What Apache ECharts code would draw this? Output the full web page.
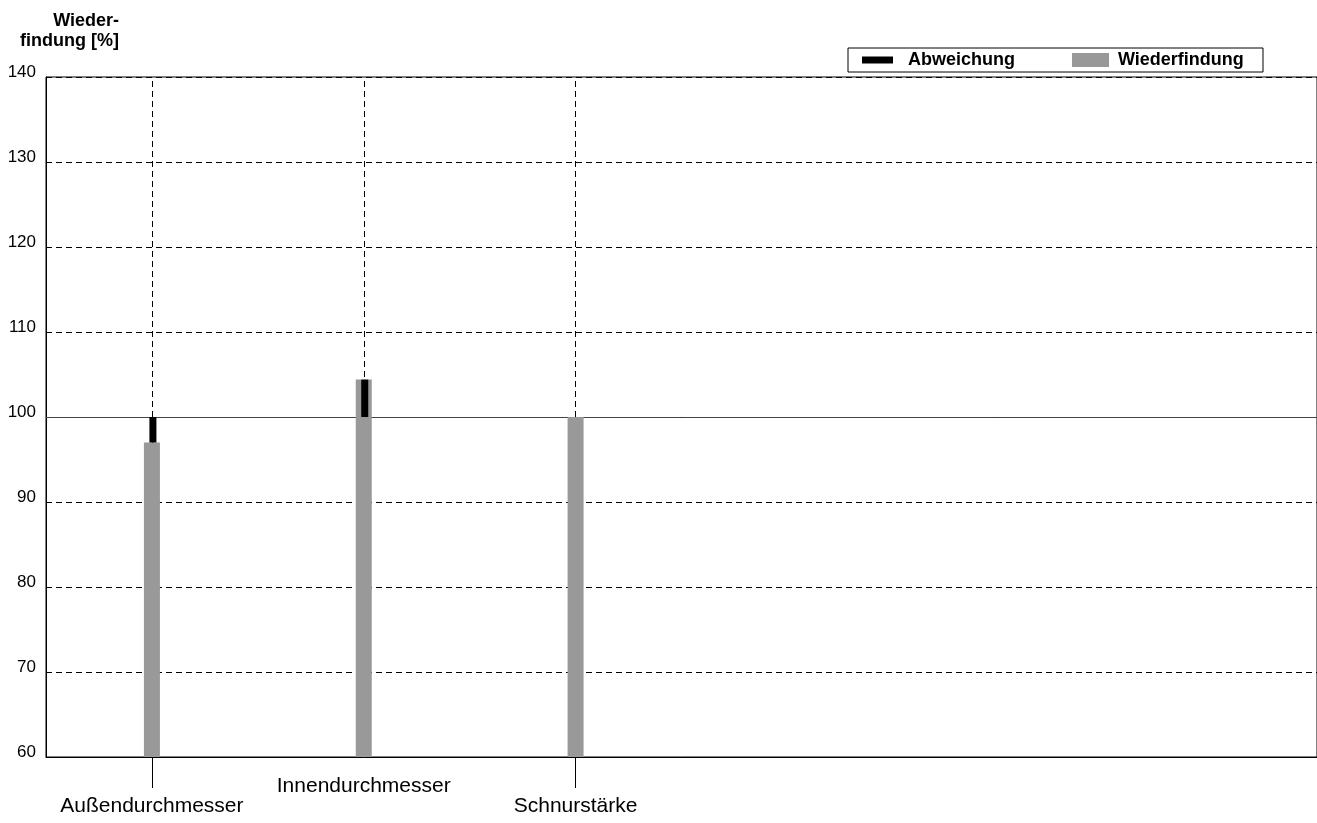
<!DOCTYPE html>
<html>
<head>
<meta charset="utf-8">
<script src="https://cdn.jsdelivr.net/npm/echarts@6/dist/echarts.min.js"></script>
<style>
html,body{margin:0;padding:0;background:#fff;}
#chart{width:1317px;height:823px;}
</style>
</head>
<body>
<div id="chart"></div>
<script>
const categories = ['Außendurchmesser', 'Innendurchmesser', 'Schnurstärke', '', '', ''];
const recovery = [97, 104.4, 100];
const referenceValue = 100;
const yTicks = [60, 70, 80, 90, 100, 110, 120, 130, 140];

const FONT = 'Liberation Sans, Arial, Helvetica, sans-serif';

const deviationData = [];
recovery.forEach(function (v, i) {
  if (v !== referenceValue) {
    deviationData.push([i, Math.min(v, referenceValue), Math.max(v, referenceValue)]);
  }
});

const chart = echarts.init(document.getElementById('chart'), null, { renderer: 'canvas' });
chart.setOption({
  animation: false,
  backgroundColor: '#fff',
  textStyle: { fontFamily: FONT },
  title: {
    text: 'Wieder-\nfindung [%]',
    left: 119,
    top: 11,
    textAlign: 'right',
    padding: 0,
    textStyle: { fontFamily: FONT, fontSize: 18, fontWeight: 'bold', color: '#000', lineHeight: 20 }
  },
  legend: [
    {
      data: ['Abweichung'],
      left: 848,
      top: 48,
      icon: 'rect',
      itemWidth: 31,
      itemHeight: 7,
      padding: [3, 248, 3, 14],
      borderColor: '#000',
      borderWidth: 1,
      selectedMode: false,
      textStyle: { fontFamily: FONT, fontSize: 18, fontWeight: 'bold', color: '#000', padding: [0, 0, 0, 10] }
    },
    {
      data: ['Wiederfindung'],
      left: 1072,
      top: 51,
      icon: 'rect',
      itemWidth: 37,
      itemHeight: 14,
      padding: 0,
      selectedMode: false,
      textStyle: { fontFamily: FONT, fontSize: 18, fontWeight: 'bold', color: '#000', padding: [0, 0, 0, 4] }
    }
  ],
  grid: {
    left: 46, right: 0, top: 77, bottom: 66,
    show: true, borderColor: '#000', borderWidth: 1, backgroundColor: 'transparent'
  },
  xAxis: {
    type: 'category',
    data: categories,
    boundaryGap: true,
    axisLine: { show: true, lineStyle: { color: '#000', width: 1 } },
    axisTick: {
      show: true,
      alignWithLabel: true,
      length: 31,
      interval: function (index) { return index === 0 || index === 2; },
      lineStyle: { color: '#000' }
    },
    axisLabel: {
      interval: 0,
      margin: 19,
      fontFamily: FONT,
      fontSize: 21,
      lineHeight: 20,
      color: '#000',
      formatter: function (value, index) {
        if (!value) return '';
        return index % 2 === 0 ? '\n' + value : value;
      }
    },
    splitLine: { show: false }
  },
  yAxis: {
    type: 'value',
    min: yTicks[0],
    max: yTicks[yTicks.length - 1],
    interval: yTicks[1] - yTicks[0],
    axisLine: { show: true, lineStyle: { color: '#000' } },
    axisTick: { show: false },
    axisLabel: {
      fontFamily: FONT, fontSize: 17, color: '#000', margin: 10,
      verticalAlign: 'bottom', lineHeight: 10
    },
    splitLine: { show: true, lineStyle: { color: '#000', type: [6, 4], width: 1 } }
  },
  series: [
    {
      name: 'Wiederfindung',
      type: 'bar',
      data: recovery,
      barWidth: 16,
      z: 2,
      itemStyle: { color: '#999999' },
      markLine: {
        z: 1,
        silent: true,
        symbol: 'none',
        label: { show: false },
        animation: false,
        data: [
          { xAxis: 0, lineStyle: { color: '#000', type: [6, 4], width: 1 } },
          { xAxis: 1, lineStyle: { color: '#000', type: [6, 4], width: 1 } },
          { xAxis: 2, lineStyle: { color: '#000', type: [6, 4], width: 1 } },
          { yAxis: referenceValue, lineStyle: { color: '#444', type: 'solid', width: 1 } }
        ]
      }
    },
    {
      name: 'Abweichung',
      type: 'custom',
      z: 3,
      itemStyle: { color: '#000' },
      encode: { x: 0, y: [1, 2] },
      data: deviationData,
      renderItem: function (params, api) {
        const idx = api.value(0);
        const lo = api.coord([idx, api.value(1)]);
        const hi = api.coord([idx, api.value(2)]);
        const w = 7;
        return {
          type: 'rect',
          shape: { x: lo[0] - w / 2 + 1, y: hi[1], width: w, height: lo[1] - hi[1] },
          style: { fill: '#000' }
        };
      }
    }
  ]
});
</script>
</body>
</html>
